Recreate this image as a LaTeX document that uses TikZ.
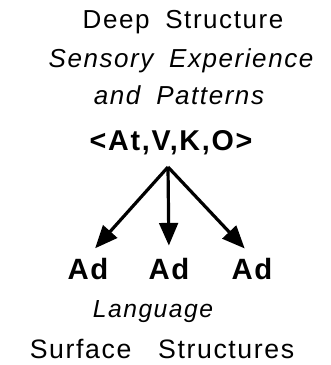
\documentclass[tikz,border=0pt]{standalone}
\usepackage{fontspec}
\setmainfont{Liberation Sans}[LetterSpace=6,WordSpace=1.8]
\usetikzlibrary{arrows.meta}

\tikzset{every picture/.style={line width=0.75pt}}
\tikzset{
  lbl/.style={anchor=base,inner sep=0.75pt},
  branch/.style={line width=2.4pt,-{Triangle[length=17pt,width=14pt]}}
}

\begin{document}
\begin{tikzpicture}[x=0.75pt,y=0.75pt,yscale=-1,xscale=1]
%set diagram size 330 x 365
\path[use as bounding box] (0,0) rectangle (330,365);

% Text Node
\draw (183,28) node [lbl] [font=\fontsize{19.5}{22}\selectfont] (deep) {Deep Structure};
% Text Node
\draw (181,67) node [lbl] [font=\fontsize{19.5}{22}\selectfont\itshape] (sensory) {Sensory Experience};
% Text Node
\draw (179,104) node [lbl] [font=\fontsize{19.5}{22}\selectfont\itshape] (patterns) {and Patterns};
% Text Node
\draw (171,150) node [lbl] [font=\fontsize{21.5}{24}\selectfont\bfseries] (repsys) {<At,V,K,O>};
% Text Node
\draw (88,279) node [lbl] [font=\fontsize{22}{24}\selectfont\bfseries] (adl) {Ad};
% Text Node
\draw (169,279) node [lbl] [font=\fontsize{22}{24}\selectfont\bfseries] (adm) {Ad};
% Text Node
\draw (252,279) node [lbl] [font=\fontsize{22}{24}\selectfont\bfseries] (adr) {Ad};
% Text Node
\draw (153,317) node [lbl] [font=\fontsize{18.5}{22}\selectfont\itshape] (lang) {Language};
% Text Node
\draw (162,358) node [lbl] [font=\fontsize{20}{22}\selectfont] (surface) {Surface\hspace{8pt} Structures};

\coordinate (apex) at (168,167);
% Connection
\draw [branch, shorten >=8pt] (apex) -- (adl.north);
% Connection
\draw [branch, shorten >=8pt] (apex) -- (adm.north);
% Connection
\draw [branch, shorten >=8pt] (apex) -- (adr.north);

\end{tikzpicture}
\end{document}
